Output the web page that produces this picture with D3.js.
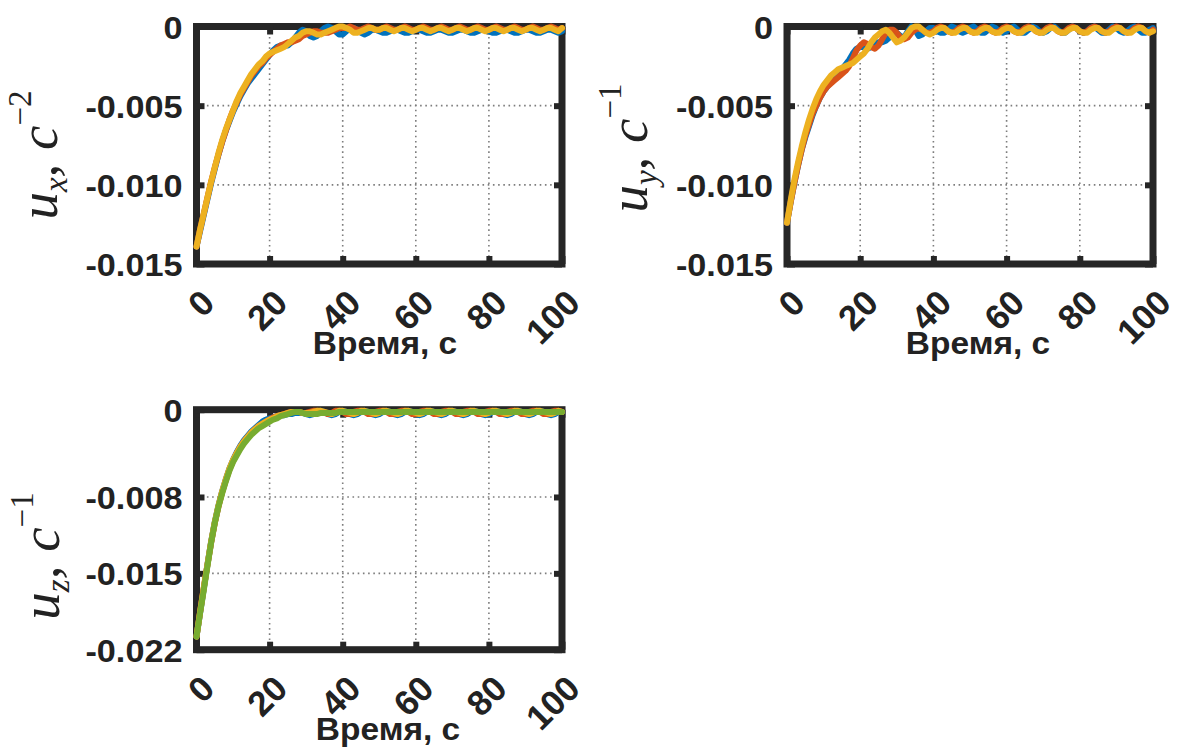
<!DOCTYPE html>
<html><head><meta charset="utf-8">
<script src="https://cdn.jsdelivr.net/npm/d3@7"></script>
<style>body{margin:0;background:#fff}svg{display:block}</style>
</head><body>
<svg id="c" width="1177" height="749"></svg>
<script>
// ---------------- DATA ----------------
const time = [0,1,2,3,4,5,6,7,8,9,10,11,12,13,14,15,16,17,18,19,20,21,22,23,24,25,26,27,28,29,30,31,32,33,34,35,36,37,38,39,40,41,42,43,44,45,46,47,48,49,50,51,52,53,54,55,56,57,58,59,60,61,62,63,64,65,66,67,68,69,70,71,72,73,74,75,76,77,78,79,80,81,82,83,84,85,86,87,88,89,90,91,92,93,94,95,96,97,98,99,100];

const uxBlue = [-.0139,-.0129,-.0119,-.0109,-.0099,-.0090,-.0081,-.0073,-.0066,-.0060,
 -.0054,-.0049,-.0044,-.0040,-.0036,-.0033,-.0030,-.0027,-.0024,-.0021,
 -.0018,-.0015,-.0013,-.0012,-.0012,-.0012,-.0010,-.0007,-.0004,-.0002,
 -.0003,-.0006,-.0007,-.0006,-.0003,-.0001,.0000,-.0001,-.0003,-.0005,
 -.0005,-.0003,-.0001,-.0001,-.0002,-.0004,-.0005,-.0004,-.0002,-.0002,
 -.0003,-.0004,-.0004,-.0003,-.0002,-.0002,-.0003,-.0004,-.0004,-.0003,
 -.0002,-.0002,-.0003,-.0004,-.0004,-.0003,-.0002,-.0002,-.0003,-.0004,
 -.0004,-.0003,-.0002,-.0002,-.0003,-.0004,-.0004,-.0003,-.0002,-.0002,
 -.0003,-.0004,-.0004,-.0003,-.0002,-.0002,-.0003,-.0004,-.0004,-.0003,
 -.0002,-.0002,-.0003,-.0004,-.0004,-.0003,-.0002,-.0002,-.0003,-.0004,
 -.0003];
const uxOrange = [-.0139,-.0128,-.0118,-.0108,-.0098,-.0089,-.0081,-.0073,-.0066,-.0059,
 -.0053,-.0048,-.0043,-.0039,-.0035,-.0031,-.0028,-.0025,-.0023,-.0020,
 -.0018,-.0016,-.0014,-.0012,-.0011,-.0010,-.0010,-.0009,-.0008,-.0006,
 -.0005,-.0004,-.0003,-.0003,-.0004,-.0004,-.0004,-.0003,-.0002,-.0001,
 -.0001,-.0001,.0000,-.0001,-.0002,-.0002,-.0001,.0000,-.0001,-.0002,
 -.0002,-.0001,.0000,-.0001,-.0002,-.0002,-.0001,.0000,-.0001,-.0002,
 -.0002,-.0001,.0000,-.0001,-.0002,-.0002,-.0001,.0000,-.0001,-.0002,
 -.0002,-.0001,.0000,-.0001,-.0002,-.0002,-.0001,.0000,-.0001,-.0002,
 -.0002,-.0001,.0000,-.0001,-.0002,-.0002,-.0001,.0000,-.0001,-.0002,
 -.0002,-.0001,.0000,-.0001,-.0002,-.0002,-.0001,.0000,-.0001,-.0002,
 -.0001];
const uxYellow = [-.0139,-.0128,-.0118,-.0108,-.0098,-.0089,-.0080,-.0072,-.0065,-.0059,
 -.0053,-.0047,-.0042,-.0038,-.0034,-.0030,-.0027,-.0024,-.0022,-.0019,
 -.0017,-.0016,-.0015,-.0014,-.0013,-.0011,-.0009,-.0007,-.0006,-.0004,
 -.0003,-.0003,-.0004,-.0005,-.0005,-.0004,-.0003,-.0002,-.0001,.0000,
 .0000,-.0001,-.0002,-.0004,-.0004,-.0003,-.0002,-.0001,-.0001,-.0002,
 -.0002,-.0001,-.0001,-.0002,-.0003,-.0002,-.0001,-.0001,-.0002,-.0003,
 -.0002,-.0001,-.0001,-.0002,-.0003,-.0002,-.0001,-.0001,-.0002,-.0003,
 -.0002,-.0001,-.0001,-.0002,-.0003,-.0002,-.0001,-.0001,-.0002,-.0003,
 -.0002,-.0001,-.0001,-.0002,-.0003,-.0002,-.0001,-.0001,-.0002,-.0003,
 -.0002,-.0001,-.0001,-.0002,-.0003,-.0002,-.0001,-.0001,-.0002,-.0003,
 -.0001];

const uyBlue = [-.0124,-.0111,-.0099,-.0088,-.0078,-.0070,-.0063,-.0056,-.0050,-.0045,
 -.0041,-.0038,-.0035,-.0032,-.0030,-.0027,-.0024,-.0021,-.0017,-.0014,
 -.0013,-.0013,-.0014,-.0013,-.0011,-.0010,-.0010,-.0009,-.0007,-.0005,
 -.0004,-.0006,-.0007,-.0003,.0000,-.0002,-.0006,-.0005,-.0003,-.0001,
 -.0001,-.0003,-.0004,-.0004,-.0002,.0000,-.0001,-.0003,-.0004,-.0003,
 -.0001,.0000,-.0002,-.0004,-.0004,-.0002,.0000,-.0001,-.0003,-.0004,
 -.0003,-.0001,.0000,-.0002,-.0004,-.0004,-.0002,.0000,-.0001,-.0003,
 -.0004,-.0003,-.0001,.0000,-.0002,-.0004,-.0004,-.0002,.0000,-.0001,
 -.0003,-.0004,-.0003,-.0001,.0000,-.0002,-.0004,-.0004,-.0002,.0000,
 -.0001,-.0003,-.0004,-.0003,-.0001,.0000,-.0002,-.0004,-.0004,-.0002,
 -.0001];
const uyOrange = [-.0124,-.0111,-.0099,-.0088,-.0078,-.0069,-.0062,-.0055,-.0050,-.0045,
 -.0041,-.0038,-.0036,-.0034,-.0032,-.0030,-.0028,-.0025,-.0020,-.0015,
 -.0012,-.0010,-.0011,-.0013,-.0014,-.0012,-.0008,-.0004,-.0002,-.0002,
 -.0004,-.0007,-.0008,-.0007,-.0004,-.0002,-.0001,-.0002,-.0004,-.0004,
 -.0003,-.0001,.0000,-.0001,-.0003,-.0004,-.0003,-.0001,.0000,-.0001,
 -.0003,-.0004,-.0003,-.0001,.0000,-.0001,-.0003,-.0004,-.0003,-.0001,
 .0000,-.0001,-.0003,-.0004,-.0003,-.0001,.0000,-.0001,-.0003,-.0004,
 -.0003,-.0001,.0000,-.0001,-.0003,-.0004,-.0003,-.0001,.0000,-.0001,
 -.0003,-.0004,-.0003,-.0001,.0000,-.0001,-.0003,-.0004,-.0003,-.0001,
 .0000,-.0001,-.0003,-.0004,-.0003,-.0001,.0000,-.0001,-.0003,-.0004,
 -.0002];
const uyYellow = [-.0124,-.0110,-.0097,-.0086,-.0076,-.0067,-.0059,-.0052,-.0046,-.0041,
 -.0037,-.0034,-.0031,-.0029,-.0027,-.0026,-.0025,-.0024,-.0023,-.0021,
 -.0019,-.0017,-.0014,-.0010,-.0007,-.0005,-.0003,-.0002,-.0004,-.0007,
 -.0010,-.0009,-.0007,-.0004,-.0001,.0000,.0000,-.0002,-.0004,-.0005,
 -.0004,-.0002,-.0001,-.0001,-.0003,-.0004,-.0004,-.0002,-.0001,-.0001,
 -.0003,-.0004,-.0004,-.0002,-.0001,-.0001,-.0003,-.0004,-.0004,-.0002,
 -.0001,-.0001,-.0003,-.0004,-.0004,-.0002,-.0001,-.0001,-.0003,-.0004,
 -.0004,-.0002,-.0001,-.0001,-.0003,-.0004,-.0004,-.0002,-.0001,-.0001,
 -.0003,-.0004,-.0004,-.0002,-.0001,-.0001,-.0003,-.0004,-.0004,-.0002,
 -.0001,-.0001,-.0003,-.0004,-.0004,-.0002,-.0001,-.0001,-.0003,-.0004,
 -.0003];

const uzBlue = [-.0208,-.0186,-.0164,-.0142,-.0121,-.0103,-.0088,-.0075,-.0064,-.0054,
 -.0046,-.0039,-.0033,-.0028,-.0024,-.0020,-.0017,-.0014,-.0011,-.0009,
 -.0008,-.0007,-.0006,-.0005,-.0005,-.0004,-.0004,-.0003,-.0003,-.0003,
 -.0004,-.0005,-.0004,-.0002,-.0001,-.0002,-.0004,-.0005,-.0004,-.0002,
 -.0001,-.0002,-.0004,-.0005,-.0004,-.0002,-.0001,-.0002,-.0004,-.0005,
 -.0004,-.0002,-.0001,-.0002,-.0004,-.0005,-.0004,-.0002,-.0001,-.0002,
 -.0004,-.0005,-.0004,-.0002,-.0001,-.0002,-.0004,-.0005,-.0004,-.0002,
 -.0001,-.0002,-.0004,-.0005,-.0004,-.0002,-.0001,-.0002,-.0004,-.0005,
 -.0004,-.0002,-.0001,-.0002,-.0004,-.0005,-.0004,-.0002,-.0001,-.0002,
 -.0004,-.0005,-.0004,-.0002,-.0001,-.0002,-.0004,-.0005,-.0004,-.0002,
 -.0002];
const uzOrange = [-.0208,-.0185,-.0163,-.0142,-.0122,-.0104,-.0089,-.0076,-.0065,-.0055,
 -.0047,-.0040,-.0034,-.0029,-.0025,-.0021,-.0018,-.0015,-.0013,-.0011,
 -.0009,-.0007,-.0006,-.0005,-.0004,-.0003,-.0002,-.0002,-.0002,-.0003,
 -.0003,-.0002,-.0001,-.0001,-.0002,-.0003,-.0004,-.0003,-.0001,-.0001,
 -.0002,-.0004,-.0004,-.0002,-.0001,-.0001,-.0002,-.0004,-.0004,-.0002,
 -.0001,-.0001,-.0002,-.0004,-.0004,-.0002,-.0001,-.0001,-.0002,-.0004,
 -.0004,-.0002,-.0001,-.0001,-.0002,-.0004,-.0004,-.0002,-.0001,-.0001,
 -.0002,-.0004,-.0004,-.0002,-.0001,-.0001,-.0002,-.0004,-.0004,-.0002,
 -.0001,-.0001,-.0002,-.0004,-.0004,-.0002,-.0001,-.0001,-.0002,-.0004,
 -.0004,-.0002,-.0001,-.0001,-.0002,-.0004,-.0004,-.0002,-.0001,-.0001,
 -.0002];
const uzYellow = [-.0208,-.0185,-.0163,-.0142,-.0121,-.0103,-.0088,-.0075,-.0064,-.0054,
 -.0046,-.0040,-.0034,-.0029,-.0025,-.0021,-.0018,-.0015,-.0013,-.0011,
 -.0009,-.0008,-.0006,-.0005,-.0004,-.0003,-.0002,-.0002,-.0002,-.0003,
 -.0003,-.0003,-.0002,-.0001,-.0001,-.0002,-.0003,-.0004,-.0003,-.0001,
 -.0001,-.0002,-.0003,-.0004,-.0003,-.0001,-.0001,-.0002,-.0003,-.0004,
 -.0003,-.0001,-.0001,-.0002,-.0003,-.0004,-.0003,-.0001,-.0001,-.0002,
 -.0003,-.0004,-.0003,-.0001,-.0001,-.0002,-.0003,-.0004,-.0003,-.0001,
 -.0001,-.0002,-.0003,-.0004,-.0003,-.0001,-.0001,-.0002,-.0003,-.0004,
 -.0003,-.0001,-.0001,-.0002,-.0003,-.0004,-.0003,-.0001,-.0001,-.0002,
 -.0003,-.0004,-.0003,-.0001,-.0001,-.0002,-.0003,-.0004,-.0003,-.0001,
 -.0002];
const uzGreen = [-.0208,-.0186,-.0165,-.0143,-.0122,-.0104,-.0089,-.0077,-.0066,-.0056,
 -.0048,-.0042,-.0036,-.0031,-.0027,-.0023,-.0020,-.0017,-.0015,-.0013,
 -.0011,-.0009,-.0008,-.0006,-.0005,-.0004,-.0003,-.0002,-.0002,-.0003,
 -.0004,-.0004,-.0004,-.0004,-.0003,-.0003,-.0003,-.0003,-.0003,-.0002,
 -.0002,-.0002,-.0002,-.0002,-.0002,-.0002,-.0002,-.0002,-.0002,-.0002,
 -.0002,-.0002,-.0002,-.0002,-.0002,-.0002,-.0002,-.0002,-.0002,-.0002,
 -.0002,-.0002,-.0002,-.0002,-.0002,-.0002,-.0002,-.0002,-.0002,-.0002,
 -.0002,-.0002,-.0002,-.0002,-.0002,-.0002,-.0002,-.0002,-.0002,-.0002,
 -.0002,-.0002,-.0002,-.0002,-.0002,-.0002,-.0002,-.0002,-.0002,-.0002,
 -.0002,-.0002,-.0002,-.0002,-.0002,-.0002,-.0002,-.0002,-.0002,-.0002,
 -.0002];

const xTicks = [0, 20, 40, 60, 80, 100];
const xTickLabels = ["0", "20", "40", "60", "80", "100"];
const uxyTicks = [0, -0.005, -0.010, -0.015];
const uxyTickLabels = ["0", "-0.005", "-0.010", "-0.015"];
const uzTicks = [0, -0.008, -0.015, -0.022];
const uzTickLabels = ["0", "-0.008", "-0.015", "-0.022"];
const xTitle = "Время, с";

const COLORS = { blue: "#0072BD", orange: "#D95319", yellow: "#EDB120", green: "#77AC30" };

// ---------------- LAYOUT ----------------
const panels = [
  { left: 196.5, right: 562, top: 26.5, bottom: 264, yDomain: [-0.015, 0],
    yTicks: uxyTicks, yTickLabels: uxyTickLabels,
    series: [[uxBlue, "blue"], [uxOrange, "orange"], [uxYellow, "yellow"]],
    sub: "x", sup: "\u22122", ylx: 57, yly: 155, xtx: 385, xty: 354 },
  { left: 787, right: 1153, top: 26.5, bottom: 264, yDomain: [-0.015, 0],
    yTicks: uxyTicks, yTickLabels: uxyTickLabels,
    series: [[uyBlue, "blue"], [uyOrange, "orange"], [uyYellow, "yellow"]],
    sub: "y", sup: "\u22121", ylx: 647, yly: 148, xtx: 978, xty: 354 },
  { left: 196.5, right: 562, top: 409.7, bottom: 649.7, yDomain: [-0.022, 0],
    yTicks: uzTicks, yTickLabels: uzTickLabels,
    series: [[uzBlue, "blue"], [uzOrange, "orange"], [uzYellow, "yellow"], [uzGreen, "green"]],
    sub: "z", sup: "\u22121", ylx: 59, yly: 556, xtx: 388, xty: 740 }
];

const svg = d3.select("#c");
const INK = "#222222";
const SANS = '"Liberation Sans", Arial, Helvetica, sans-serif';
const SERIF = '"Liberation Serif", "Times New Roman", serif';

panels.forEach(p => {
  const g = svg.append("g");
  const x = d3.scaleLinear().domain([0, 100]).range([p.left, p.right]);
  const y = d3.scaleLinear().domain(p.yDomain).range([p.bottom, p.top]);

  // grid (dotted)
  const grid = g.append("g").attr("stroke", "#7d7d7d").attr("stroke-width", 1.6)
    .attr("stroke-dasharray", "1.6,3.6");
  grid.selectAll("line.gx").data(xTicks.filter(t => t > 0 && t < 100)).join("line")
    .attr("x1", d => x(d)).attr("x2", d => x(d)).attr("y1", p.top).attr("y2", p.bottom);
  grid.selectAll("line.gy").data(p.yTicks.filter(t => t < 0 && t > p.yDomain[0])).join("line")
    .attr("y1", d => y(d)).attr("y2", d => y(d)).attr("x1", p.left).attr("x2", p.right);

  // box
  g.append("rect").attr("x", p.left).attr("y", p.top)
    .attr("width", p.right - p.left).attr("height", p.bottom - p.top)
    .attr("fill", "none").attr("stroke", "#262626").attr("stroke-width", 7);

  // inner ticks on all four sides
  const tk = -8;
  const styleAxis = sel => {
    sel.select(".domain").remove();
    sel.selectAll(".tick text").remove();
    sel.selectAll(".tick line").attr("stroke", "#262626").attr("stroke-width", 6);
  };
  g.append("g").attr("transform", `translate(0,${p.bottom})`)
    .call(d3.axisBottom(x).tickValues(xTicks).tickSize(tk)).call(styleAxis);
  g.append("g").attr("transform", `translate(0,${p.top})`)
    .call(d3.axisTop(x).tickValues(xTicks).tickSize(tk)).call(styleAxis);
  g.append("g").attr("transform", `translate(${p.left},0)`)
    .call(d3.axisLeft(y).tickValues(p.yTicks).tickSize(tk)).call(styleAxis);
  g.append("g").attr("transform", `translate(${p.right},0)`)
    .call(d3.axisRight(y).tickValues(p.yTicks).tickSize(tk)).call(styleAxis);

  // data lines
  const line = d3.line().x((d, i) => x(time[i])).y(d => y(d));
  p.series.forEach(([vals, c]) => {
    g.append("path").datum(vals).attr("d", line)
      .attr("fill", "none").attr("stroke", COLORS[c]).attr("stroke-width", 6)
      .attr("stroke-linejoin", "round").attr("stroke-linecap", "round");
  });

  // y tick labels
  g.selectAll("text.yt").data(p.yTicks).join("text")
    .attr("transform", (d) => `translate(${p.left - 14},${y(d) + 12}) scale(1.07,1)`)
    .attr("text-anchor", "end").attr("font-family", SANS).attr("font-weight", "bold")
    .attr("font-size", 32).attr("fill", INK)
    .text((d, i) => p.yTickLabels[i]);

  // x tick labels (rotated)
  g.selectAll("text.xt").data(xTicks).join("text")
    .attr("transform", d => `translate(${x(d) + 20},${p.bottom + 41}) rotate(-45)`)
    .attr("text-anchor", "end").attr("font-family", SANS).attr("font-weight", "bold")
    .attr("font-size", 35).attr("fill", INK)
    .text((d, i) => xTickLabels[i]);

  // x title
  g.append("text").attr("transform", `translate(${p.xtx},${p.xty}) scale(1.08,1)`)
    .attr("text-anchor", "middle").attr("font-family", SANS).attr("font-weight", "bold")
    .attr("font-size", 31).attr("fill", INK).text(xTitle);

  // y title: u_sub , c^sup
  const t = g.append("text").attr("transform", `translate(${p.ylx},${p.yly}) rotate(-90)`)
    .attr("text-anchor", "middle").attr("font-family", SERIF).attr("font-style", "italic")
    .attr("font-size", 55).attr("fill", INK);
  t.append("tspan").text("u");
  t.append("tspan").attr("font-size", 33).attr("dy", 10).text(p.sub);
  t.append("tspan").attr("dy", -10).text(", ");
  t.append("tspan").text("c");
  t.append("tspan").attr("font-size", 33).attr("font-style", "normal").attr("dy", -26).text(p.sup);
});
</script>
</body></html>
